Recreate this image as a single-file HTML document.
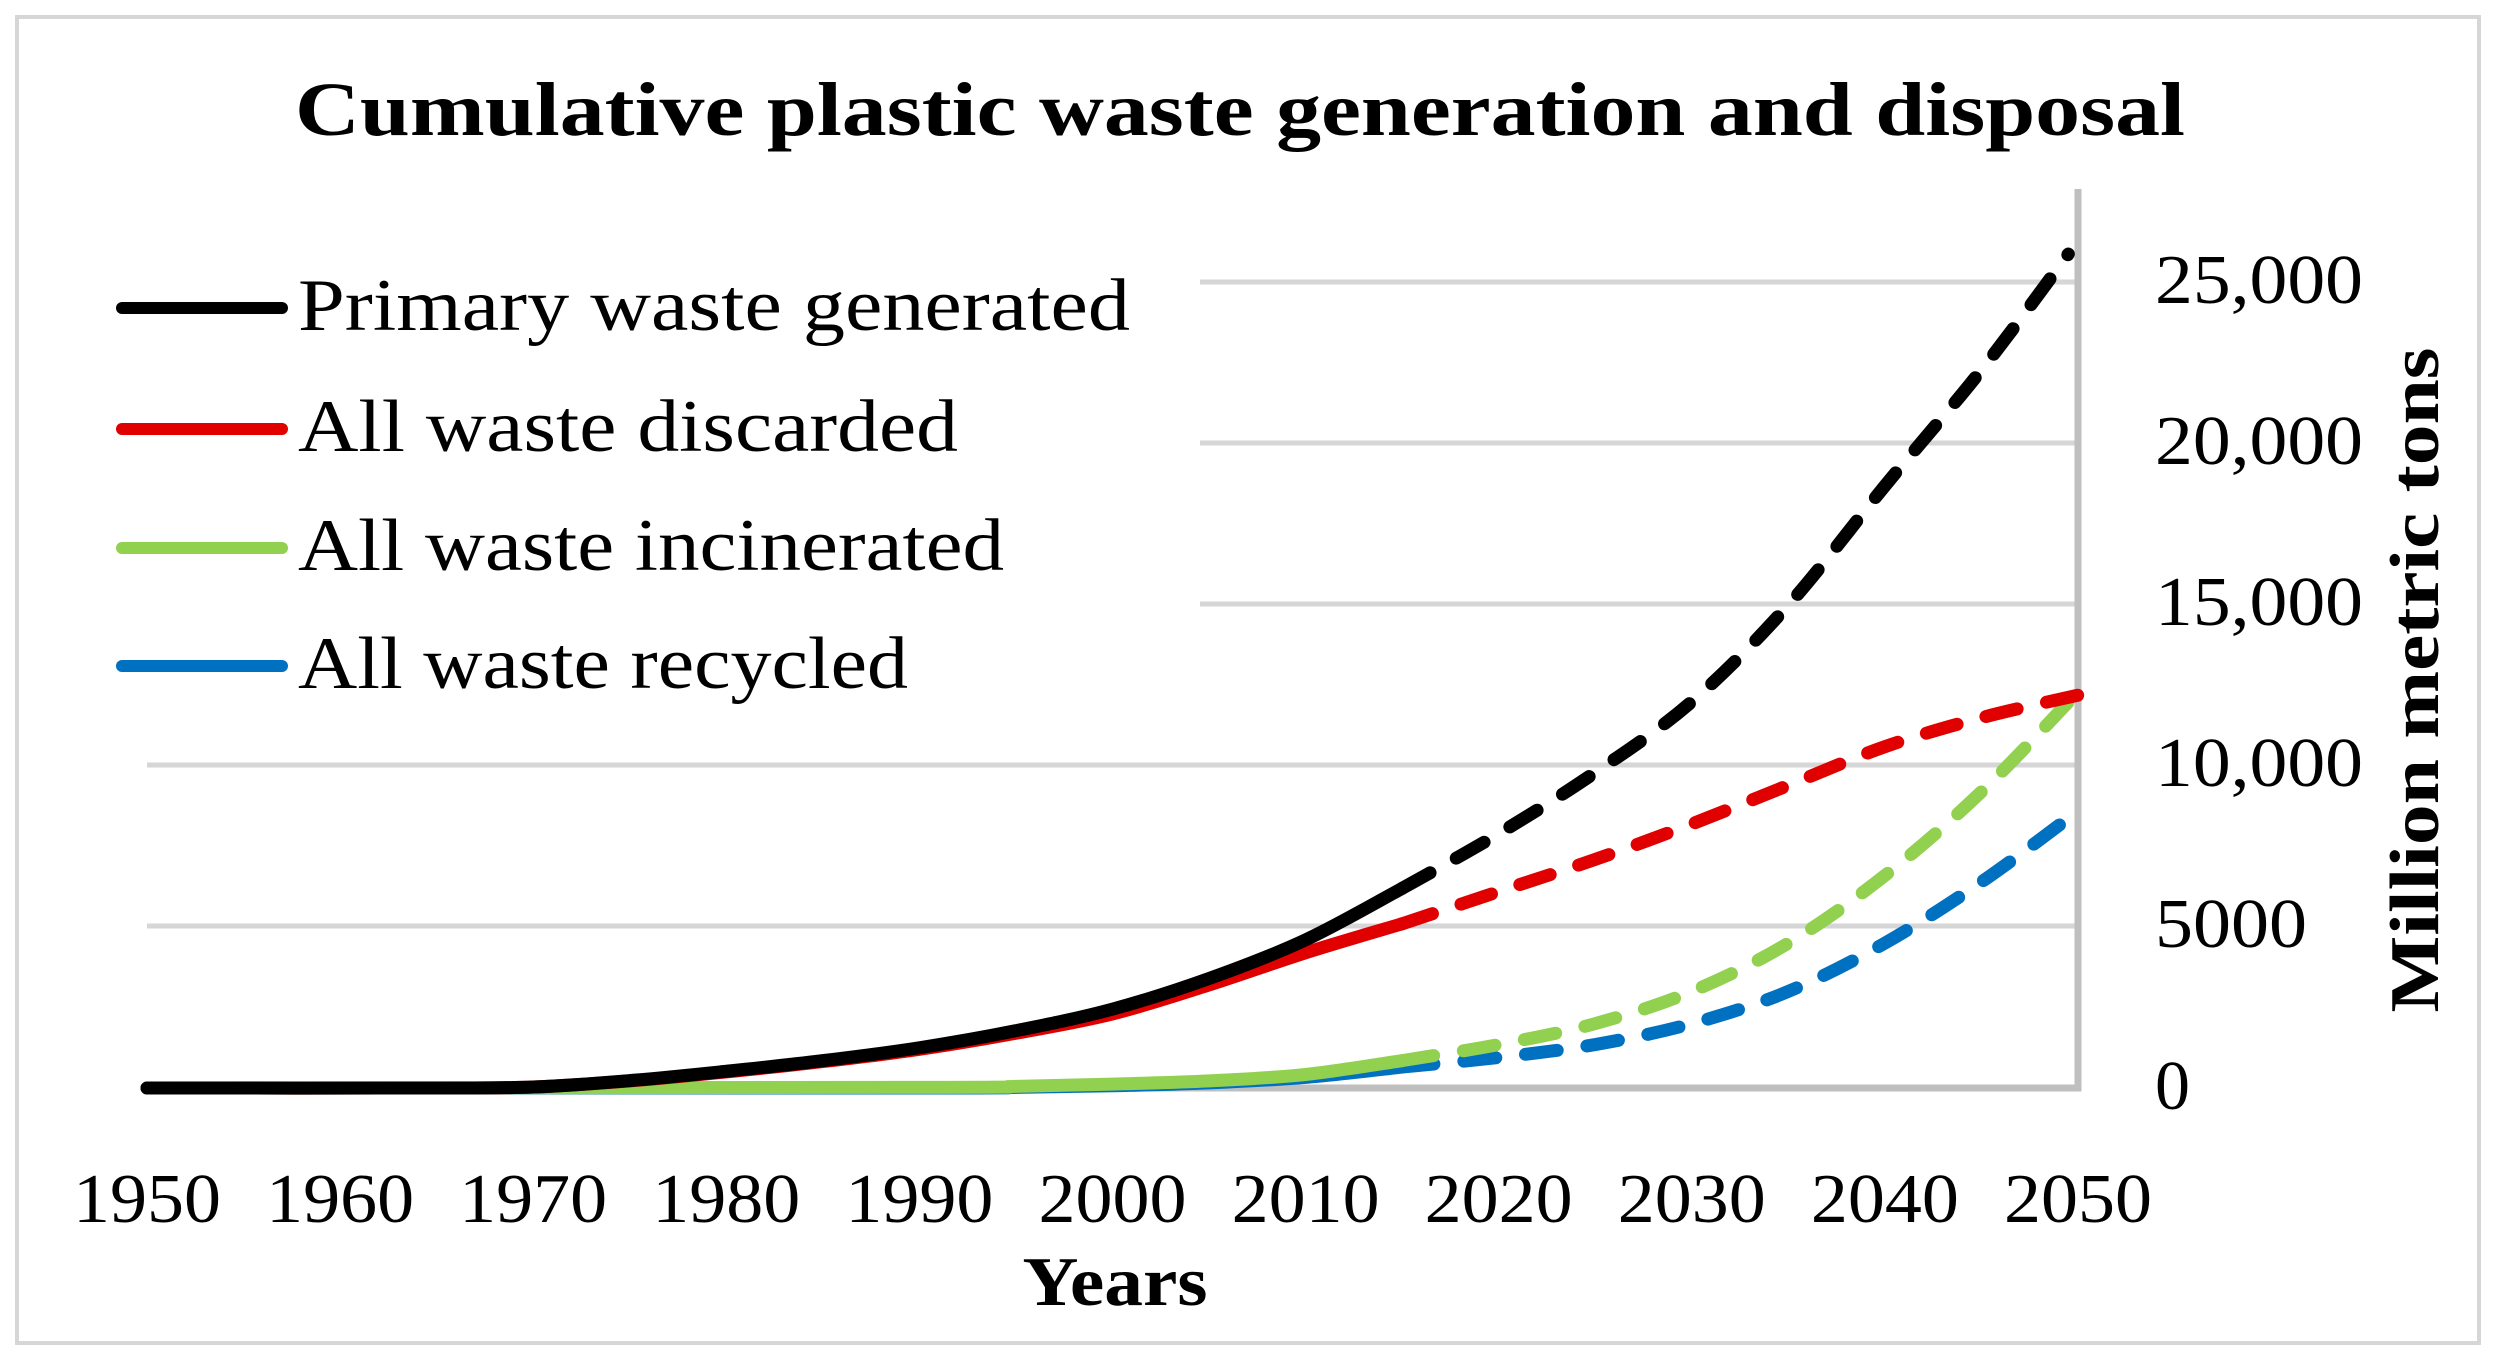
<!DOCTYPE html>
<html><head><meta charset="utf-8"><style>
html,body{margin:0;padding:0;background:#fff;}
svg{display:block;}
text{font-family:"Liberation Serif",serif;fill:#000;}
</style></head><body>
<svg id="s" width="2496" height="1351" viewBox="0 0 2496 1351" xmlns="http://www.w3.org/2000/svg">
<rect x="17" y="17" width="2462" height="1326" fill="#fff" stroke="#d6d6d6" stroke-width="4"/>
<text x="1240" y="135" font-size="76" font-weight="bold" text-anchor="middle" textLength="1890" lengthAdjust="spacingAndGlyphs">Cumulative plastic waste generation and disposal</text>
<g stroke="#d6d6d6" stroke-width="5">
<line x1="1200" y1="282" x2="2078" y2="282"/>
<line x1="1200" y1="443" x2="2078" y2="443"/>
<line x1="1200" y1="604" x2="2078" y2="604"/>
<line x1="147" y1="765" x2="2078" y2="765"/>
<line x1="147" y1="926" x2="2078" y2="926"/>
</g>
<g stroke="#bfbfbf" stroke-width="7" fill="none">
<polyline points="147,1088 2078,1088 2078,189"/>
</g>
<g font-size="70">
<text x="2155" y="303" textLength="208" lengthAdjust="spacingAndGlyphs">25,000</text>
<text x="2155" y="464" textLength="208" lengthAdjust="spacingAndGlyphs">20,000</text>
<text x="2155" y="625" textLength="208" lengthAdjust="spacingAndGlyphs">15,000</text>
<text x="2155" y="786" textLength="208" lengthAdjust="spacingAndGlyphs">10,000</text>
<text x="2155" y="947" textLength="152" lengthAdjust="spacingAndGlyphs">5000</text>
<text x="2155" y="1109">0</text>
</g>
<text transform="translate(2438,680) rotate(-90)" font-size="70" font-weight="bold" text-anchor="middle" textLength="665" lengthAdjust="spacingAndGlyphs">Million metric tons</text>
<g font-size="70" text-anchor="middle" id="xl"></g>
<text x="1115" y="1305" font-size="70" font-weight="bold" text-anchor="middle" textLength="185" lengthAdjust="spacingAndGlyphs">Years</text>
<g stroke-width="12" stroke-linecap="round">
<line x1="122" y1="308" x2="282" y2="308" stroke="#000"/>
<line x1="122" y1="429" x2="282" y2="429" stroke="#e00000"/>
<line x1="122" y1="548" x2="282" y2="548" stroke="#92d050"/>
<line x1="122" y1="666" x2="282" y2="666" stroke="#0070c0"/>
</g>
<g font-size="74">
<text x="298" y="330" textLength="832" lengthAdjust="spacingAndGlyphs">Primary waste generated</text>
<text x="298" y="451" textLength="660" lengthAdjust="spacingAndGlyphs">All waste discarded</text>
<text x="298" y="570" textLength="706" lengthAdjust="spacingAndGlyphs">All waste incinerated</text>
<text x="298" y="688" textLength="610" lengthAdjust="spacingAndGlyphs">All waste recycled</text>
</g>
<g id="series" fill="none" stroke-width="13" stroke-linecap="round"></g>
</svg>
<script>
var NS="http://www.w3.org/2000/svg";
function X(y){return 147+(y-1950)*19.31;}
function V(v){return 1088-v*0.0322;}
var xl=document.getElementById("xl");
for(var y=1950;y<=2050;y+=10){var t=document.createElementNS(NS,"text");t.setAttribute("x",X(y));t.setAttribute("y",1222);t.setAttribute("textLength",148);t.setAttribute("lengthAdjust","spacingAndGlyphs");t.textContent=y;xl.appendChild(t);}
function path(pts){var p=pts.map(function(a){return [X(a[0]),V(a[1])];});var d="M"+p[0][0]+","+p[0][1];
for(var i=0;i<p.length-1;i++){var p0=p[i-1]||p[i],p1=p[i],p2=p[i+1],p3=p[i+2]||p2;
d+=" C"+(p1[0]+(p2[0]-p0[0])/6)+","+(p1[1]+(p2[1]-p0[1])/6)+" "+(p2[0]-(p3[0]-p1[0])/6)+","+(p2[1]-(p3[1]-p1[1])/6)+" "+p2[0]+","+p2[1];}return d;}
var S=[
["#0070c0",[[1950,0],[1990,0],[1995,20],[2000,70],[2005,160],[2010,330],[2015,650]],[[2015,650],[2020,950],[2025,1350],[2030,2000],[2035,3000],[2040,4500],[2045,6400],[2050,8600]]],
["#92d050",[[1950,0],[1990,20],[1995,50],[2000,120],[2005,220],[2010,420],[2015,850]],[[2015,850],[2020,1350],[2025,2000],[2030,3000],[2035,4500],[2040,6600],[2045,9200],[2050,12300]]],
["#e00000",[[1950,0],[1965,0],[1970,30],[1975,220],[1980,500],[1985,820],[1990,1200],[1995,1700],[2000,2300],[2005,3200],[2010,4200],[2015,5100]],[[2015,5100],[2020,6100],[2025,7100],[2030,8200],[2035,9400],[2040,10600],[2045,11500],[2050,12200]]],
["#000000",[[1950,0],[1965,0],[1970,30],[1975,230],[1980,520],[1985,850],[1990,1250],[1995,1780],[2000,2450],[2005,3400],[2010,4600],[2015,6200]],[[2015,6200],[2020,7900],[2025,9800],[2030,12000],[2035,15000],[2040,18700],[2045,22300],[2049.5,25900]]]
];
var g=document.getElementById("series");
S.forEach(function(s){var a=document.createElementNS(NS,"path");a.setAttribute("d",path(s[1]));a.setAttribute("stroke",s[0]);g.appendChild(a);
var b=document.createElementNS(NS,"path");b.setAttribute("d",path(s[2]));b.setAttribute("stroke",s[0]);b.setAttribute("stroke-dasharray","32 30");g.appendChild(b);});
</script>
</body></html>
